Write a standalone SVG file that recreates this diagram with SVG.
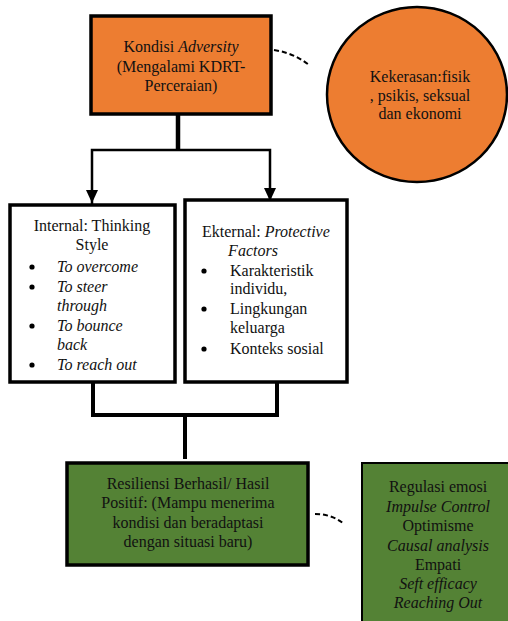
<svg xmlns="http://www.w3.org/2000/svg" width="508" height="621" viewBox="0 0 508 621">
<style>
text{fill:#111;font-family:"Liberation Serif",serif !important;font-size:16px}
.c{text-anchor:middle}
.i{font-style:italic}
.box{stroke:#000;stroke-width:3.5}
.ln{stroke:#000;fill:none}
.dash{stroke:#000;fill:none;stroke-width:2;stroke-dasharray:5 3}
</style>
<rect width="508" height="621" fill="#fff"/>
<g id="connectors">
<line class="ln" x1="178" y1="114" x2="178" y2="150" stroke-width="4.5"/>
<polyline class="ln" points="92,204 92,150 270,150 270,202" stroke-width="2.5"/>
<path d="M86,190 L98,190 L92,203 Z" fill="#000"/>
<path d="M264,188 L276,188 L270,201 Z" fill="#000"/>
<polyline class="ln" points="93,382 93,415 277,415 277,382" stroke-width="4"/>
<line class="ln" x1="185" y1="415" x2="185" y2="459" stroke-width="4"/>
<path class="dash" d="M274,50 Q294,53 309,65"/>
<path class="dash" d="M315,514 Q332,514 344,524"/>
</g>
<g id="adversity">
<rect class="box" x="91" y="16" width="180" height="98" fill="#ED7D31"/>
<text class="c" x="181" y="52" font-family="Liberation Serif" style="font-family:'Liberation Serif',serif !important">Kondisi <tspan class="i">Adversity</tspan></text>
<text class="c" x="181" y="72" font-family="Liberation Serif" style="font-family:'Liberation Serif',serif !important">(Mengalami KDRT-</text>
<text class="c" x="181" y="91" font-family="Liberation Serif" style="font-family:'Liberation Serif',serif !important">Perceraian)</text>
</g>
<g id="kekerasan">
<ellipse cx="417" cy="94.5" rx="90" ry="87.5" fill="#ED7D31" stroke="#000" stroke-width="2.5"/>
<text class="c" x="420" y="82" font-family="Liberation Serif" style="font-family:'Liberation Serif',serif !important">Kekerasan:fisik</text>
<text class="c" x="420" y="101" font-family="Liberation Serif" style="font-family:'Liberation Serif',serif !important">, psikis, seksual</text>
<text class="c" x="420" y="119" font-family="Liberation Serif" style="font-family:'Liberation Serif',serif !important">dan ekonomi</text>
</g>
<g id="internal">
<rect class="box" x="10" y="205" width="165" height="177" fill="#fff"/>
<text class="c" x="92" y="231" font-family="Liberation Serif" style="font-family:'Liberation Serif',serif !important">Internal: Thinking</text>
<text class="c" x="92" y="250" font-family="Liberation Serif" style="font-family:'Liberation Serif',serif !important">Style</text>
<text class="i" x="57" y="272" font-family="Liberation Serif" style="font-family:'Liberation Serif',serif !important">To overcome</text>
<text class="i" x="57" y="292" font-family="Liberation Serif" style="font-family:'Liberation Serif',serif !important">To steer</text>
<text class="i" x="57" y="311" font-family="Liberation Serif" style="font-family:'Liberation Serif',serif !important">through</text>
<text class="i" x="57" y="331" font-family="Liberation Serif" style="font-family:'Liberation Serif',serif !important">To bounce</text>
<text class="i" x="57" y="350" font-family="Liberation Serif" style="font-family:'Liberation Serif',serif !important">back</text>
<text class="i" x="57" y="370" font-family="Liberation Serif" style="font-family:'Liberation Serif',serif !important">To reach out</text>
<circle cx="32" cy="267" r="2.6" fill="#000"/>
<circle cx="32" cy="287" r="2.6" fill="#000"/>
<circle cx="32" cy="326" r="2.6" fill="#000"/>
<circle cx="32" cy="365" r="2.6" fill="#000"/>
</g>
<g id="eksternal">
<rect class="box" x="185" y="200" width="162" height="182" fill="#fff"/>
<text x="202" y="237" font-family="Liberation Serif" style="font-family:'Liberation Serif',serif !important">Ekternal: <tspan class="i">Protective</tspan></text>
<text class="c i" x="253" y="256" font-family="Liberation Serif" style="font-family:'Liberation Serif',serif !important">Factors</text>
<text x="230" y="276" font-family="Liberation Serif" style="font-family:'Liberation Serif',serif !important">Karakteristik</text>
<text x="230" y="294" font-family="Liberation Serif" style="font-family:'Liberation Serif',serif !important">individu,</text>
<text x="230" y="314" font-family="Liberation Serif" style="font-family:'Liberation Serif',serif !important">Lingkungan</text>
<text x="230" y="333" font-family="Liberation Serif" style="font-family:'Liberation Serif',serif !important">keluarga</text>
<text x="230" y="354" font-family="Liberation Serif" style="font-family:'Liberation Serif',serif !important">Konteks sosial</text>
<circle cx="204" cy="271" r="2.6" fill="#000"/>
<circle cx="204" cy="309" r="2.6" fill="#000"/>
<circle cx="204" cy="349" r="2.6" fill="#000"/>
</g>
<g id="resiliensi">
<rect class="box" x="67" y="463" width="241" height="102" fill="#548235"/>
<text class="c" x="188" y="489" font-family="Liberation Serif" style="font-family:'Liberation Serif',serif !important">Resiliensi Berhasil/ Hasil</text>
<text class="c" x="188" y="508" font-family="Liberation Serif" style="font-family:'Liberation Serif',serif !important">Positif: (Mampu menerima</text>
<text class="c" x="188" y="528" font-family="Liberation Serif" style="font-family:'Liberation Serif',serif !important">kondisi dan beradaptasi</text>
<text class="c" x="188" y="547" font-family="Liberation Serif" style="font-family:'Liberation Serif',serif !important">dengan situasi baru)</text>
</g>
<g id="aspek">
<rect x="362" y="463" width="160" height="170" fill="#548235" stroke="#000" stroke-width="2"/>
<text class="c" x="438" y="492" font-family="Liberation Serif" style="font-family:'Liberation Serif',serif !important">Regulasi emosi</text>
<text class="c i" x="438" y="512" font-family="Liberation Serif" style="font-family:'Liberation Serif',serif !important">Impulse Control</text>
<text class="c" x="438" y="531" font-family="Liberation Serif" style="font-family:'Liberation Serif',serif !important">Optimisme</text>
<text class="c i" x="438" y="551" font-family="Liberation Serif" style="font-family:'Liberation Serif',serif !important">Causal analysis</text>
<text class="c" x="438" y="570" font-family="Liberation Serif" style="font-family:'Liberation Serif',serif !important">Empati</text>
<text class="c i" x="438" y="589" font-family="Liberation Serif" style="font-family:'Liberation Serif',serif !important">Seft efficacy</text>
<text class="c i" x="438" y="608" font-family="Liberation Serif" style="font-family:'Liberation Serif',serif !important">Reaching Out</text>
</g>
</svg>
